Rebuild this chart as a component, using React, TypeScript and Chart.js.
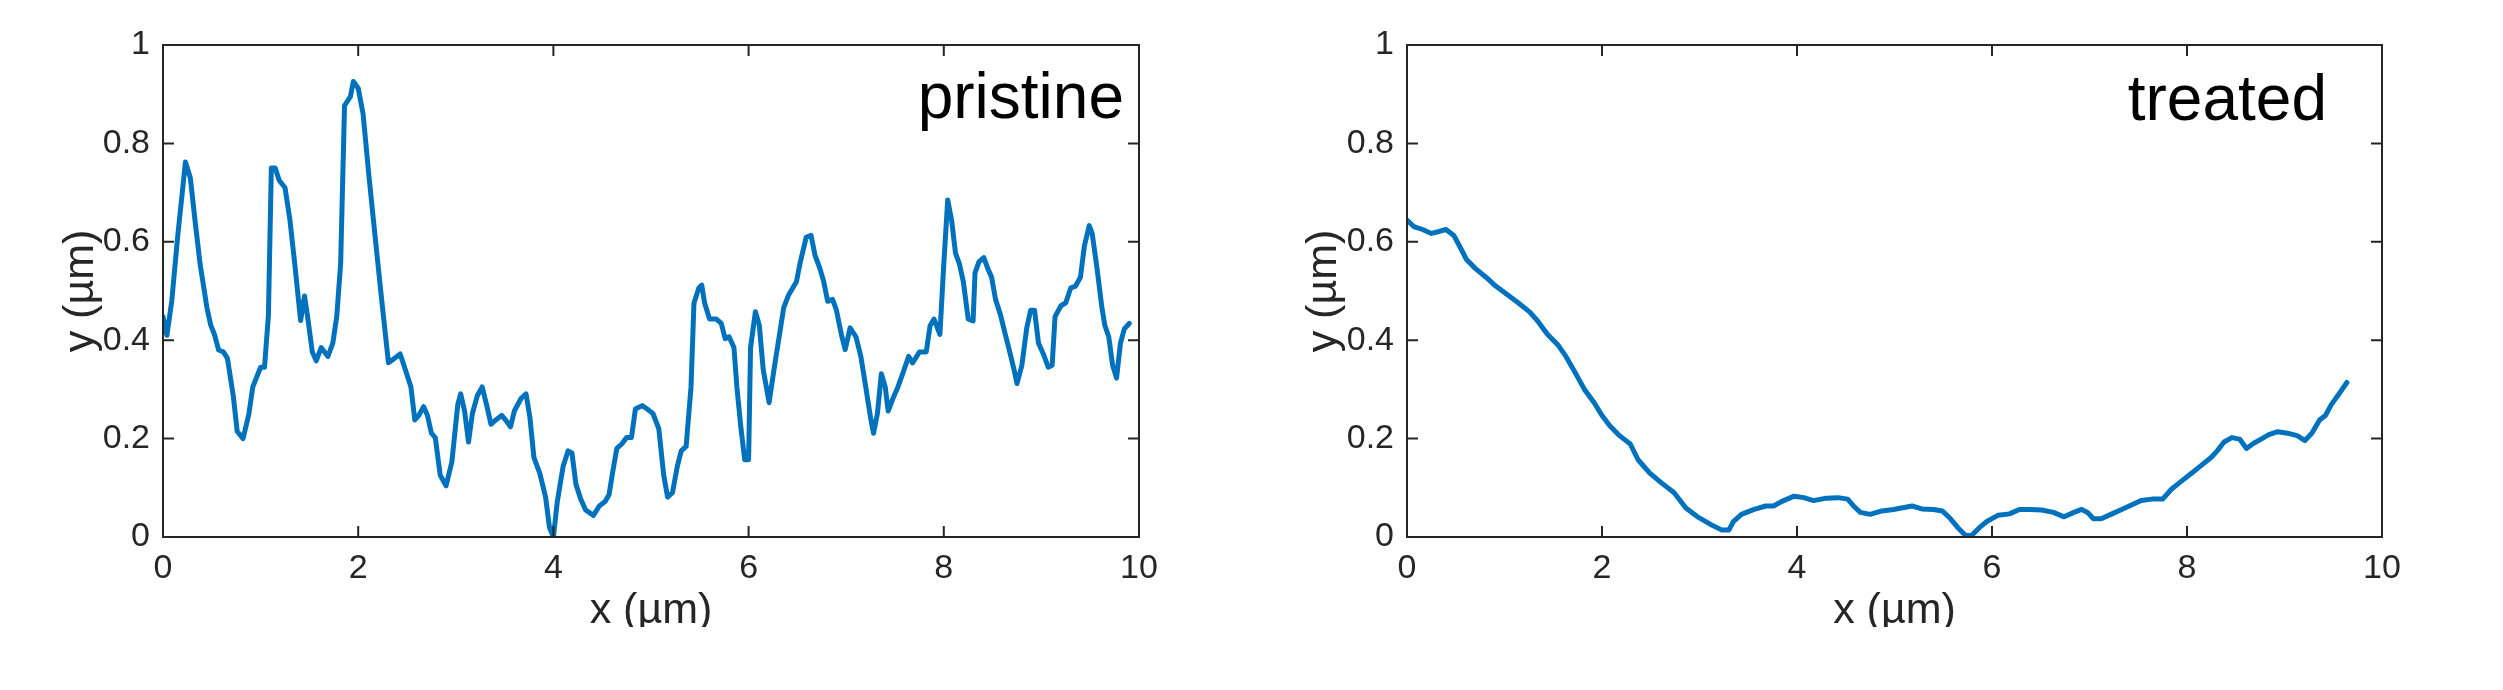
import React, { useEffect, useRef } from 'react';
import { Chart, registerables } from 'chart.js';

Chart.register(...registerables);

// ---------- data ----------
const pristineX = [
  0, 0.04, 0.09, 0.15, 0.23, 0.28, 0.33, 0.38, 0.45, 0.49,
  0.53, 0.57, 0.62, 0.66, 0.72, 0.76, 0.82, 0.88, 0.92, 1.0,
  1.04, 1.08, 1.11, 1.15, 1.19, 1.25, 1.3, 1.35, 1.41, 1.45,
  1.48, 1.53, 1.57, 1.62, 1.69, 1.74, 1.78, 1.82, 1.86, 1.92,
  1.95, 2.0, 2.05, 2.11, 2.17, 2.24, 2.31, 2.37, 2.43, 2.49,
  2.54, 2.58, 2.62, 2.67, 2.71, 2.75, 2.79, 2.84, 2.9, 2.96,
  3.02, 3.05, 3.09, 3.13, 3.17, 3.22, 3.27, 3.32, 3.36, 3.41,
  3.47, 3.51, 3.56, 3.6, 3.67, 3.72, 3.76, 3.8, 3.86, 3.92,
  3.96, 4.0, 4.04, 4.1, 4.15, 4.19, 4.23, 4.28, 4.33, 4.41,
  4.47, 4.53, 4.57, 4.61, 4.65, 4.7, 4.75, 4.8, 4.84, 4.91,
  4.96, 5.02, 5.08, 5.13, 5.17, 5.22, 5.27, 5.31, 5.36, 5.41,
  5.44, 5.49, 5.52, 5.55, 5.6, 5.67, 5.72, 5.76, 5.8, 5.85,
  5.88, 5.92, 5.96, 6.0, 6.02, 6.07, 6.11, 6.15, 6.21, 6.26,
  6.31, 6.36, 6.41, 6.49, 6.53, 6.59, 6.64, 6.68, 6.73, 6.77,
  6.81, 6.86, 6.9, 6.95, 6.99, 7.04, 7.1, 7.15, 7.2, 7.25,
  7.28, 7.32, 7.36, 7.4, 7.43, 7.48, 7.53, 7.57, 7.64, 7.68,
  7.75, 7.82, 7.86, 7.9, 7.96, 8.0, 8.04, 8.08, 8.12, 8.16,
  8.2, 8.25, 8.3, 8.32, 8.36, 8.41, 8.45, 8.49, 8.53, 8.58,
  8.63, 8.67, 8.72, 8.75, 8.8, 8.85, 8.89, 8.93, 8.97, 9.02,
  9.07, 9.11, 9.14, 9.2, 9.25, 9.3, 9.35, 9.4, 9.44, 9.49,
  9.52, 9.57, 9.62, 9.65, 9.69, 9.73, 9.77, 9.81, 9.85, 9.9,
];
const pristineY = [
  0.448, 0.41, 0.48, 0.61, 0.762, 0.73, 0.64, 0.555, 0.466, 0.43,
  0.41, 0.38, 0.376, 0.363, 0.287, 0.215, 0.2, 0.25, 0.305, 0.345,
  0.345, 0.45, 0.75, 0.75, 0.725, 0.71, 0.645, 0.555, 0.44, 0.49,
  0.45, 0.376, 0.358, 0.385, 0.367, 0.394, 0.448, 0.555, 0.877, 0.895,
  0.926, 0.912, 0.86, 0.734, 0.617, 0.483, 0.354, 0.363, 0.372, 0.336,
  0.305, 0.238, 0.247, 0.265, 0.247, 0.211, 0.202, 0.126, 0.104, 0.153,
  0.269, 0.291, 0.256, 0.193, 0.251, 0.287, 0.305, 0.265, 0.229, 0.238,
  0.247, 0.238, 0.224, 0.256, 0.282, 0.291, 0.242, 0.162, 0.13, 0.081,
  0.019, 0.0, 0.072, 0.144, 0.175, 0.171, 0.108, 0.077, 0.055, 0.044,
  0.063, 0.072, 0.086, 0.135, 0.18, 0.189, 0.202, 0.202, 0.26, 0.267,
  0.26, 0.251, 0.22, 0.126, 0.081, 0.09, 0.144, 0.175, 0.184, 0.305,
  0.475, 0.506, 0.512, 0.475, 0.443, 0.443, 0.434, 0.403, 0.407, 0.385,
  0.305, 0.224, 0.157, 0.157, 0.385, 0.458, 0.43, 0.34, 0.273, 0.34,
  0.403, 0.466, 0.492, 0.519, 0.559, 0.609, 0.613, 0.573, 0.546, 0.519,
  0.479, 0.483, 0.461, 0.412, 0.381, 0.425, 0.407, 0.367, 0.305, 0.242,
  0.211, 0.251, 0.332, 0.305, 0.256, 0.282, 0.305, 0.327, 0.367, 0.354,
  0.376, 0.376, 0.43, 0.443, 0.412, 0.555, 0.685, 0.644, 0.577, 0.555,
  0.519, 0.443, 0.439, 0.537, 0.559, 0.568, 0.546, 0.528, 0.483, 0.452,
  0.412, 0.381, 0.34, 0.312, 0.349, 0.425, 0.461, 0.461, 0.394, 0.372,
  0.345, 0.349, 0.448, 0.47, 0.476, 0.506, 0.51, 0.528, 0.591, 0.633,
  0.617, 0.546, 0.466, 0.43, 0.407, 0.349, 0.323, 0.394, 0.423, 0.434,
];

const treatedX = [
  0, 0.07, 0.16, 0.25, 0.33, 0.4, 0.48, 0.54, 0.61, 0.7,
  0.81, 0.91, 1.02, 1.14, 1.26, 1.34, 1.44, 1.55, 1.63, 1.72,
  1.82, 1.92, 2.0, 2.08, 2.18, 2.29, 2.37, 2.49, 2.61, 2.74,
  2.86, 2.98, 3.11, 3.23, 3.3, 3.35, 3.43, 3.56, 3.68, 3.76,
  3.84, 3.97, 4.07, 4.17, 4.3, 4.42, 4.52, 4.58, 4.65, 4.75,
  4.87, 4.99, 5.07, 5.18, 5.28, 5.4, 5.49, 5.57, 5.65, 5.73,
  5.79, 5.87, 5.95, 6.06, 6.18, 6.28, 6.39, 6.51, 6.63, 6.74,
  6.84, 6.92, 6.98, 7.04, 7.12, 7.23, 7.33, 7.43, 7.53, 7.64,
  7.75, 7.84, 7.94, 8.05, 8.15, 8.25, 8.31, 8.38, 8.46, 8.54,
  8.61, 8.68, 8.76, 8.84, 8.93, 9.03, 9.13, 9.21, 9.28, 9.36,
  9.42, 9.48, 9.56, 9.64,
];
const treatedY = [
  0.644, 0.631, 0.625, 0.617, 0.621, 0.625, 0.613, 0.591, 0.564, 0.546,
  0.528, 0.51, 0.494, 0.476, 0.457, 0.439, 0.412, 0.39, 0.367, 0.336,
  0.3, 0.273, 0.247, 0.226, 0.206, 0.189, 0.157, 0.13, 0.11, 0.09,
  0.059, 0.041, 0.026, 0.014, 0.014, 0.032, 0.046, 0.056, 0.063, 0.063,
  0.072, 0.083, 0.08, 0.074, 0.079, 0.08, 0.077, 0.063, 0.05, 0.046,
  0.053, 0.056, 0.059, 0.063, 0.057, 0.056, 0.053, 0.038, 0.019, 0.003,
  0.003, 0.019, 0.032, 0.044, 0.047, 0.056, 0.056, 0.055, 0.05, 0.041,
  0.05, 0.056, 0.05, 0.037, 0.037, 0.047, 0.056, 0.065, 0.074, 0.077,
  0.077, 0.097, 0.113, 0.13, 0.146, 0.162, 0.175, 0.193, 0.202, 0.199,
  0.18, 0.19, 0.199, 0.208, 0.214, 0.211, 0.206, 0.196, 0.211, 0.238,
  0.247, 0.269, 0.291, 0.314,
];

const xTicks = [0, 2, 4, 6, 8, 10];
const yTicks = [0, 0.2, 0.4, 0.6, 0.8, 1];
const xTitle = 'x (µm)';
const yTitle = 'y (µm)';
const panelLabels = ['pristine', 'treated'];

// ---------- styling ----------
const FONT = '"Liberation Sans", Arial, Helvetica, sans-serif';
const AXIS_COLOR = '#262626';
const LINE_COLOR = '#0072BD';

type Layout = {
  canvasLeft: number;
  canvasWidth: number;
  areaLeft: number;
  areaRight: number;
  yTitlePad: number;
  labelRight: number;
  labelBaseline: number;
};

const CANVAS_H = 690;
const AREA_TOP = 45;
const AREA_BOTTOM = 537;
const CLIP_Y = 627;

const framePlugin = {
  id: 'frameTicks',
  beforeDraw(chart: any) {
    const ctx = chart.ctx;
    ctx.save();
    ctx.beginPath();
    ctx.rect(0, 0, chart.width, CLIP_Y);
    ctx.clip();
  },
  afterDatasetsDraw(chart: any, _args: any, opts: any) {
    const ctx = chart.ctx;
    const { left, right, top, bottom } = chart.chartArea;
    const xs = chart.scales.x;
    const ys = chart.scales.y;
    const tl = 11;
    ctx.save();
    ctx.strokeStyle = AXIS_COLOR;
    ctx.lineWidth = 2;
    ctx.beginPath();
    ctx.rect(left, top, right - left, bottom - top);
    ctx.stroke();
    ctx.beginPath();
    xTicks.forEach((v) => {
      const px = xs.getPixelForValue(v);
      ctx.moveTo(px, bottom);
      ctx.lineTo(px, bottom - tl);
      ctx.moveTo(px, top);
      ctx.lineTo(px, top + tl);
    });
    yTicks.forEach((v) => {
      const py = ys.getPixelForValue(v);
      ctx.moveTo(left, py);
      ctx.lineTo(left + tl, py);
      ctx.moveTo(right, py);
      ctx.lineTo(right - tl, py);
    });
    ctx.stroke();
    ctx.fillStyle = '#000000';
    ctx.font = `64px ${FONT}`;
    ctx.textAlign = 'right';
    ctx.textBaseline = 'alphabetic';
    ctx.fillText(opts.label, opts.labelRight, opts.labelBaseline);
    ctx.restore();
  },
  afterDraw(chart: any) {
    chart.ctx.restore();
  },
};

function Panel({ xs, ys, label, layout }: { xs: number[]; ys: number[]; label: string; layout: Layout }) {
  const ref = useRef<HTMLCanvasElement | null>(null);
  useEffect(() => {
    if (!ref.current) return;
    const points = xs.map((x, i) => ({ x, y: ys[i] }));
    const chart = new Chart(ref.current, {
      type: 'line',
      data: {
        datasets: [
          {
            data: points,
            borderColor: LINE_COLOR,
            borderWidth: 5,
            pointRadius: 0,
            tension: 0,
            fill: false,
            borderJoinStyle: 'round',
            borderCapStyle: 'round',
          },
        ],
      },
      options: {
        animation: false,
        responsive: false,
        maintainAspectRatio: false,
        devicePixelRatio: 1,
        layout: {
          padding: {
            left: 0,
            top: AREA_TOP,
            right: layout.canvasWidth - layout.areaRight,
            bottom: 0,
          },
        },
        plugins: {
          legend: { display: false },
          tooltip: { enabled: false },
          frameTicks: {
            label,
            labelRight: layout.labelRight,
            labelBaseline: layout.labelBaseline,
          },
        } as any,
        scales: {
          x: {
            type: 'linear',
            position: 'bottom',
            min: 0,
            max: 10,
            grid: { display: false, drawTicks: false },
            border: { display: false },
            ticks: {
              color: AXIS_COLOR,
              font: { family: FONT, size: 34 },
              padding: 11,
              maxRotation: 0,
              autoSkip: false,
              callback: (v: any) => String(Math.round(Number(v) * 10) / 10),
            },
            title: {
              display: true,
              text: xTitle,
              color: AXIS_COLOR,
              font: { family: FONT, size: 43 },
              padding: { top: 0, bottom: 53 },
            },
            afterBuildTicks: (s: any) => {
              s.ticks = xTicks.map((v) => ({ value: v }));
            },
            afterFit: (s: any) => {
              s.height = CANVAS_H - AREA_BOTTOM;
            },
          },
          y: {
            type: 'linear',
            position: 'left',
            min: 0,
            max: 1,
            grid: { display: false, drawTicks: false },
            border: { display: false },
            ticks: {
              color: AXIS_COLOR,
              font: { family: FONT, size: 34 },
              padding: 13,
              autoSkip: false,
              callback: (v: any) => String(Math.round(Number(v) * 10) / 10),
            },
            title: {
              display: true,
              text: yTitle,
              color: AXIS_COLOR,
              font: { family: FONT, size: 43 },
              padding: { top: layout.yTitlePad, bottom: 0 },
            },
            afterBuildTicks: (s: any) => {
              s.ticks = yTicks.map((v) => ({ value: v }));
            },
            afterFit: (s: any) => {
              s.width = layout.areaLeft;
            },
          },
        },
      },
      plugins: [framePlugin],
    } as any);
    return () => chart.destroy();
  }, [xs, ys, label, layout]);

  return (
    <canvas
      ref={ref}
      width={layout.canvasWidth}
      height={CANVAS_H}
      style={{
        position: 'absolute',
        left: layout.canvasLeft,
        top: 0,
        width: layout.canvasWidth,
        height: CANVAS_H,
      }}
    />
  );
}

const leftLayout: Layout = {
  canvasLeft: 0,
  canvasWidth: 1250,
  areaLeft: 163,
  areaRight: 1139,
  yTitlePad: 55,
  labelRight: 1124,
  labelBaseline: 118,
};
const rightLayout: Layout = {
  canvasLeft: 1250,
  canvasWidth: 1253,
  areaLeft: 157,
  areaRight: 1132,
  yTitlePad: 48,
  labelRight: 1077,
  labelBaseline: 120,
};

export default function App() {
  return (
    <div
      style={{
        position: 'fixed',
        left: 0,
        top: 0,
        width: 2503,
        height: 690,
        background: '#ffffff',
        overflow: 'hidden',
      }}
    >
      <Panel xs={pristineX} ys={pristineY} label={panelLabels[0]} layout={leftLayout} />
      <Panel xs={treatedX} ys={treatedY} label={panelLabels[1]} layout={rightLayout} />
    </div>
  );
}
